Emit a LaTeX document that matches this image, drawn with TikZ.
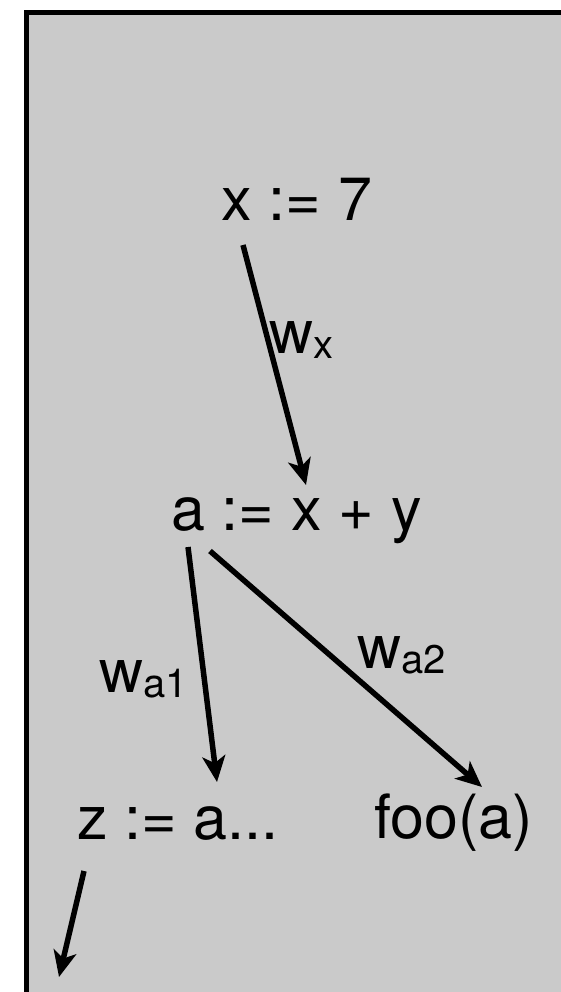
\documentclass[tikz,border=0pt]{standalone}
\usepackage{fontspec}
\setmainfont{TeX Gyre Heros}
\usetikzlibrary{arrows.meta,calc}
\definecolor{bggray}{RGB}{202,202,202}
\newcommand{\subtxt}[1]{\raisebox{-5pt}{\fontsize{40}{40}\selectfont #1}}
\begin{document}
\begin{tikzpicture}[x=1pt,y=-1pt,
  lbl/.style={anchor=base west,inner sep=0pt,outer sep=0pt,font=\fontsize{61}{61}\selectfont},
  arr/.style={line width=5.5pt,-{Stealth[length=26pt,width=23pt,inset=7pt]}}]
\useasboundingbox (0,0) rectangle (561,992);
\fill[white] (0,0) rectangle (561,992);
\fill[bggray] (29,15) rectangle (561,992);
\fill[black] (24,10) rectangle (561,15);
\fill[black] (24,10) rectangle (29,992);
\node[lbl] (x7) at (221,221) {x := 7};
\node[lbl] (a) at (171,530) {a := x + y};
\node[lbl] (z) at (77,839) {z := a...};
\node[lbl] (foo) at (374,838) {foo(a)};
\node[lbl] (wx) at (269,353) {w\subtxt{x}};
\node[lbl] (wa1) at (99,692) {w\subtxt{a1}};
\node[lbl] (wa2) at (357,668) {w\subtxt{a2}};
\coordinate (out) at (59,977);
\draw[arr] ([xshift=22pt,yshift=-24pt]x7.base west) -- ([xshift=135pt,yshift=45pt]a.base west);
\draw[arr] ([xshift=17pt,yshift=-17pt]a.base west) -- ([xshift=140pt,yshift=57pt]z.base west);
\draw[arr] ([xshift=39pt,yshift=-21pt]a.base west) -- ([xshift=108pt,yshift=51pt]foo.base west);
\draw[arr] ([xshift=7pt,yshift=-32pt]z.base west) -- (out);
\end{tikzpicture}
\end{document}
